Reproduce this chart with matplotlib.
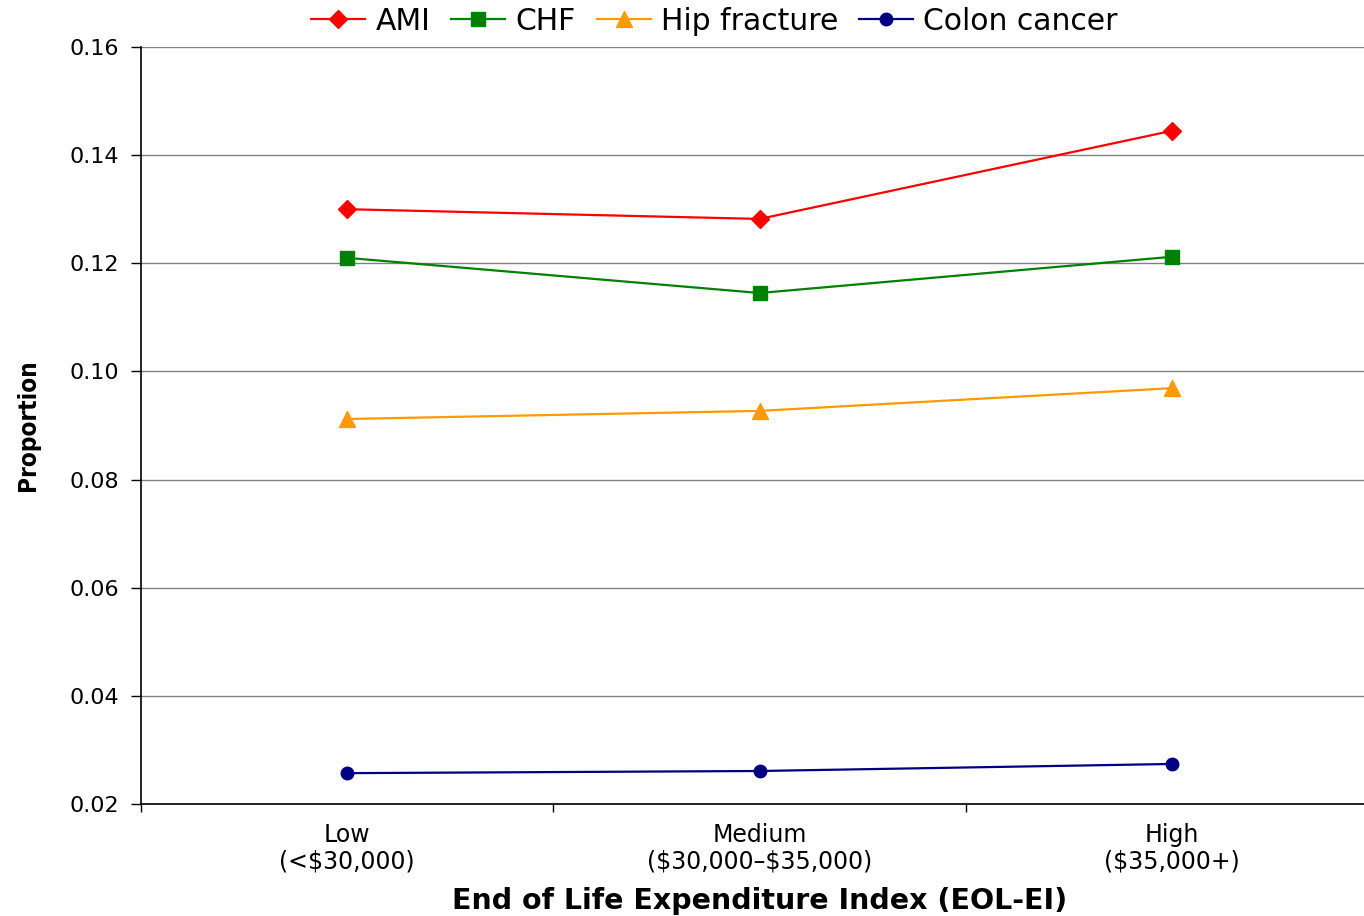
import numpy as np
import matplotlib.pyplot as plt

# data
categories = ['Low\n(<\\$30,000)', 'Medium\n(\\$30,000\u2013\\$35,000)', 'High\n(\\$35,000+)']
ami = [0.1300, 0.1282, 0.1445]
chf = [0.1210, 0.1145, 0.1212]
hip = [0.0912, 0.0927, 0.0969]
colon = [0.0257, 0.0261, 0.0274]
yticks = [0.02, 0.04, 0.06, 0.08, 0.10, 0.12, 0.14, 0.16]

plt.rcParams['font.family'] = ['DejaVu Sans']

fig = plt.figure(figsize=(13.64, 9.16), dpi=100)
ax = fig.add_axes([0.1034, 0.1223, 0.907, 0.8264])

x = np.arange(len(categories)) + 0.5
ax.plot(x, ami, color='#FF0000', lw=1.6, marker='D', ms=9.5, label='AMI')
ax.plot(x, chf, color='#008000', lw=1.6, marker='s', ms=9.5, label='CHF')
ax.plot(x, hip, color='#FF9900', lw=1.6, marker='^', ms=11, label='Hip fracture')
ax.plot(x, colon, color='#000080', lw=1.6, marker='o', ms=9, label='Colon cancer')

ax.set_xlim(0, 3)
ax.set_ylim(0.02, 0.16)
ax.set_yticks(yticks)
ax.set_yticklabels(['%.2f' % v for v in yticks], fontsize=16)
ax.yaxis.grid(True, color='#808080', lw=1)
ax.set_axisbelow(True)

ax.set_xticks([0, 1, 2, 3])
ax.set_xticklabels([])
ax.set_xticks(x, minor=True)
ax.set_xticklabels(categories, minor=True, fontsize=17, linespacing=1.1)
ax.tick_params(axis='x', which='minor', length=0, pad=14)
ax.tick_params(axis='x', which='major', length=6, width=1, direction='out')
ax.tick_params(axis='y', length=7, width=1, direction='out', pad=9)

for s in ['top', 'right']:
    ax.spines[s].set_visible(False)
ax.spines['left'].set_linewidth(1.2)
ax.spines['bottom'].set_linewidth(1.2)

ax.set_xlabel('End of Life Expenditure Index (EOL-EI)', fontsize=20.5, fontweight='bold', labelpad=10)
fig.text(0.0205, 0.536, 'Proportion', rotation=90, ha='center', va='center',
         fontsize=17.5, fontweight='bold', fontstretch='condensed', family='DejaVu Sans')

fig.legend(loc='center', bbox_to_anchor=(0.524, 0.977), ncol=4, frameon=False,
           fontsize=21.5, handlelength=1.8, columnspacing=0.7, handletextpad=0.35)

fig.savefig('out.png', dpi=100)
